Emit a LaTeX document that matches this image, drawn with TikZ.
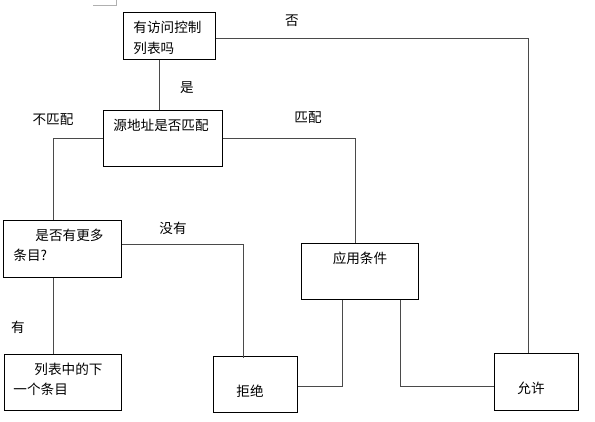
\documentclass[tikz,border=0pt]{standalone}
\usepackage{fontspec}
\newfontfamily\cjk{Noto Sans CJK SC}
\usetikzlibrary{positioning}
\definecolor{lnGrey}{HTML}{4A4A4A}
\definecolor{markGrey}{HTML}{B0B0B0}

\begin{document}
\begin{tikzpicture}[
    x=1pt, y=-1pt,
    font=\cjk\fontsize{13.6}{21}\selectfont,
    box/.style={draw=black, line width=0.9pt, anchor=north west, align=left,
                inner ysep=0pt},
    lbl/.style={inner sep=0pt},
    conn/.style={draw=lnGrey, line width=0.9pt}
]
\useasboundingbox (0,0) rectangle (595,421);

% -- page corner mark
\draw[markGrey, line width=0.8pt] (93,5) -- (116,5) -- (116,0);

% -- Row 1: access list?
\node[box, inner xsep=10pt, text width=72pt, text height=20pt, text depth=27pt]
  (acl) at (123,12) {有访问控制\\列表吗};

% -- Row 2: source address
\node[box, inner xsep=10pt, text width=99pt, text height=20pt, text depth=36pt]
  (src) at (103,110) {源地址是否匹配};

% -- Row 3: more entries / apply condition
\node[box, inner xsep=10pt, text width=98pt, text height=20pt, text depth=37pt,
      font=\cjk\fontsize{13.6}{20}\selectfont]
  (more) at (3,220) {\hspace*{22pt}是否有更多\\条目?};
\node[box, align=center, inner xsep=6pt, text width=105pt, text height=20pt, text depth=36pt]
  (cond) at (301,243) {应用条件};

% -- Row 4: next entry, deny, permit
\node[box, inner xsep=9pt, text width=99pt, text height=20pt, text depth=36pt,
      font=\cjk\fontsize{13.6}{20}\selectfont]
  (next) at (4,354) {\hspace*{21pt}列表中的下\\一个条目};
\node[box, inner xsep=23pt, text width=38pt, text height=40pt, text depth=16pt]
  (deny) at (213,356) {拒绝};
\node[box, inner xsep=23pt, text width=38pt, text height=40pt, text depth=17pt]
  (allow) at (494,353) {允许};

% -- connectors
\draw[conn] ([yshift=-2.5pt]acl.east) -| ([xshift=-8pt]allow.north);
\draw[conn] ([xshift=-10pt]acl.south) -- ([xshift=-10pt]acl.south |- src.north);
\draw[conn] (src.west) -| ([xshift=-9pt]more.north);
\draw[conn] (src.east) -| ([xshift=-4.5pt]cond.north);
\draw[conn] ([yshift=4.5pt]more.east) -| ([xshift=-12pt, yshift=-2pt]deny.north);
\draw[conn] ([xshift=-9pt]more.south) -- ([xshift=-9pt]more.south |- next.north);
\draw[conn] ([xshift=-17.5pt]cond.south) |- ([yshift=-2pt]deny.east);
\draw[conn] ([xshift=40.5pt]cond.south) |- ([yshift=-4.5pt]allow.west);

% -- branch labels
\node[lbl] (lblNo) at (292,21) {否};
\node[lbl] (lblYes) at (187,88) {是};
\node[lbl] (lblNoMatch) at (53,120) {不匹配};
\node[lbl] (lblMatch) at (308,118) {匹配};
\node[lbl] (lblNone) at (173,228) {没有};
\node[lbl] (lblHas) at (18,327) {有};

\end{tikzpicture}
\end{document}
